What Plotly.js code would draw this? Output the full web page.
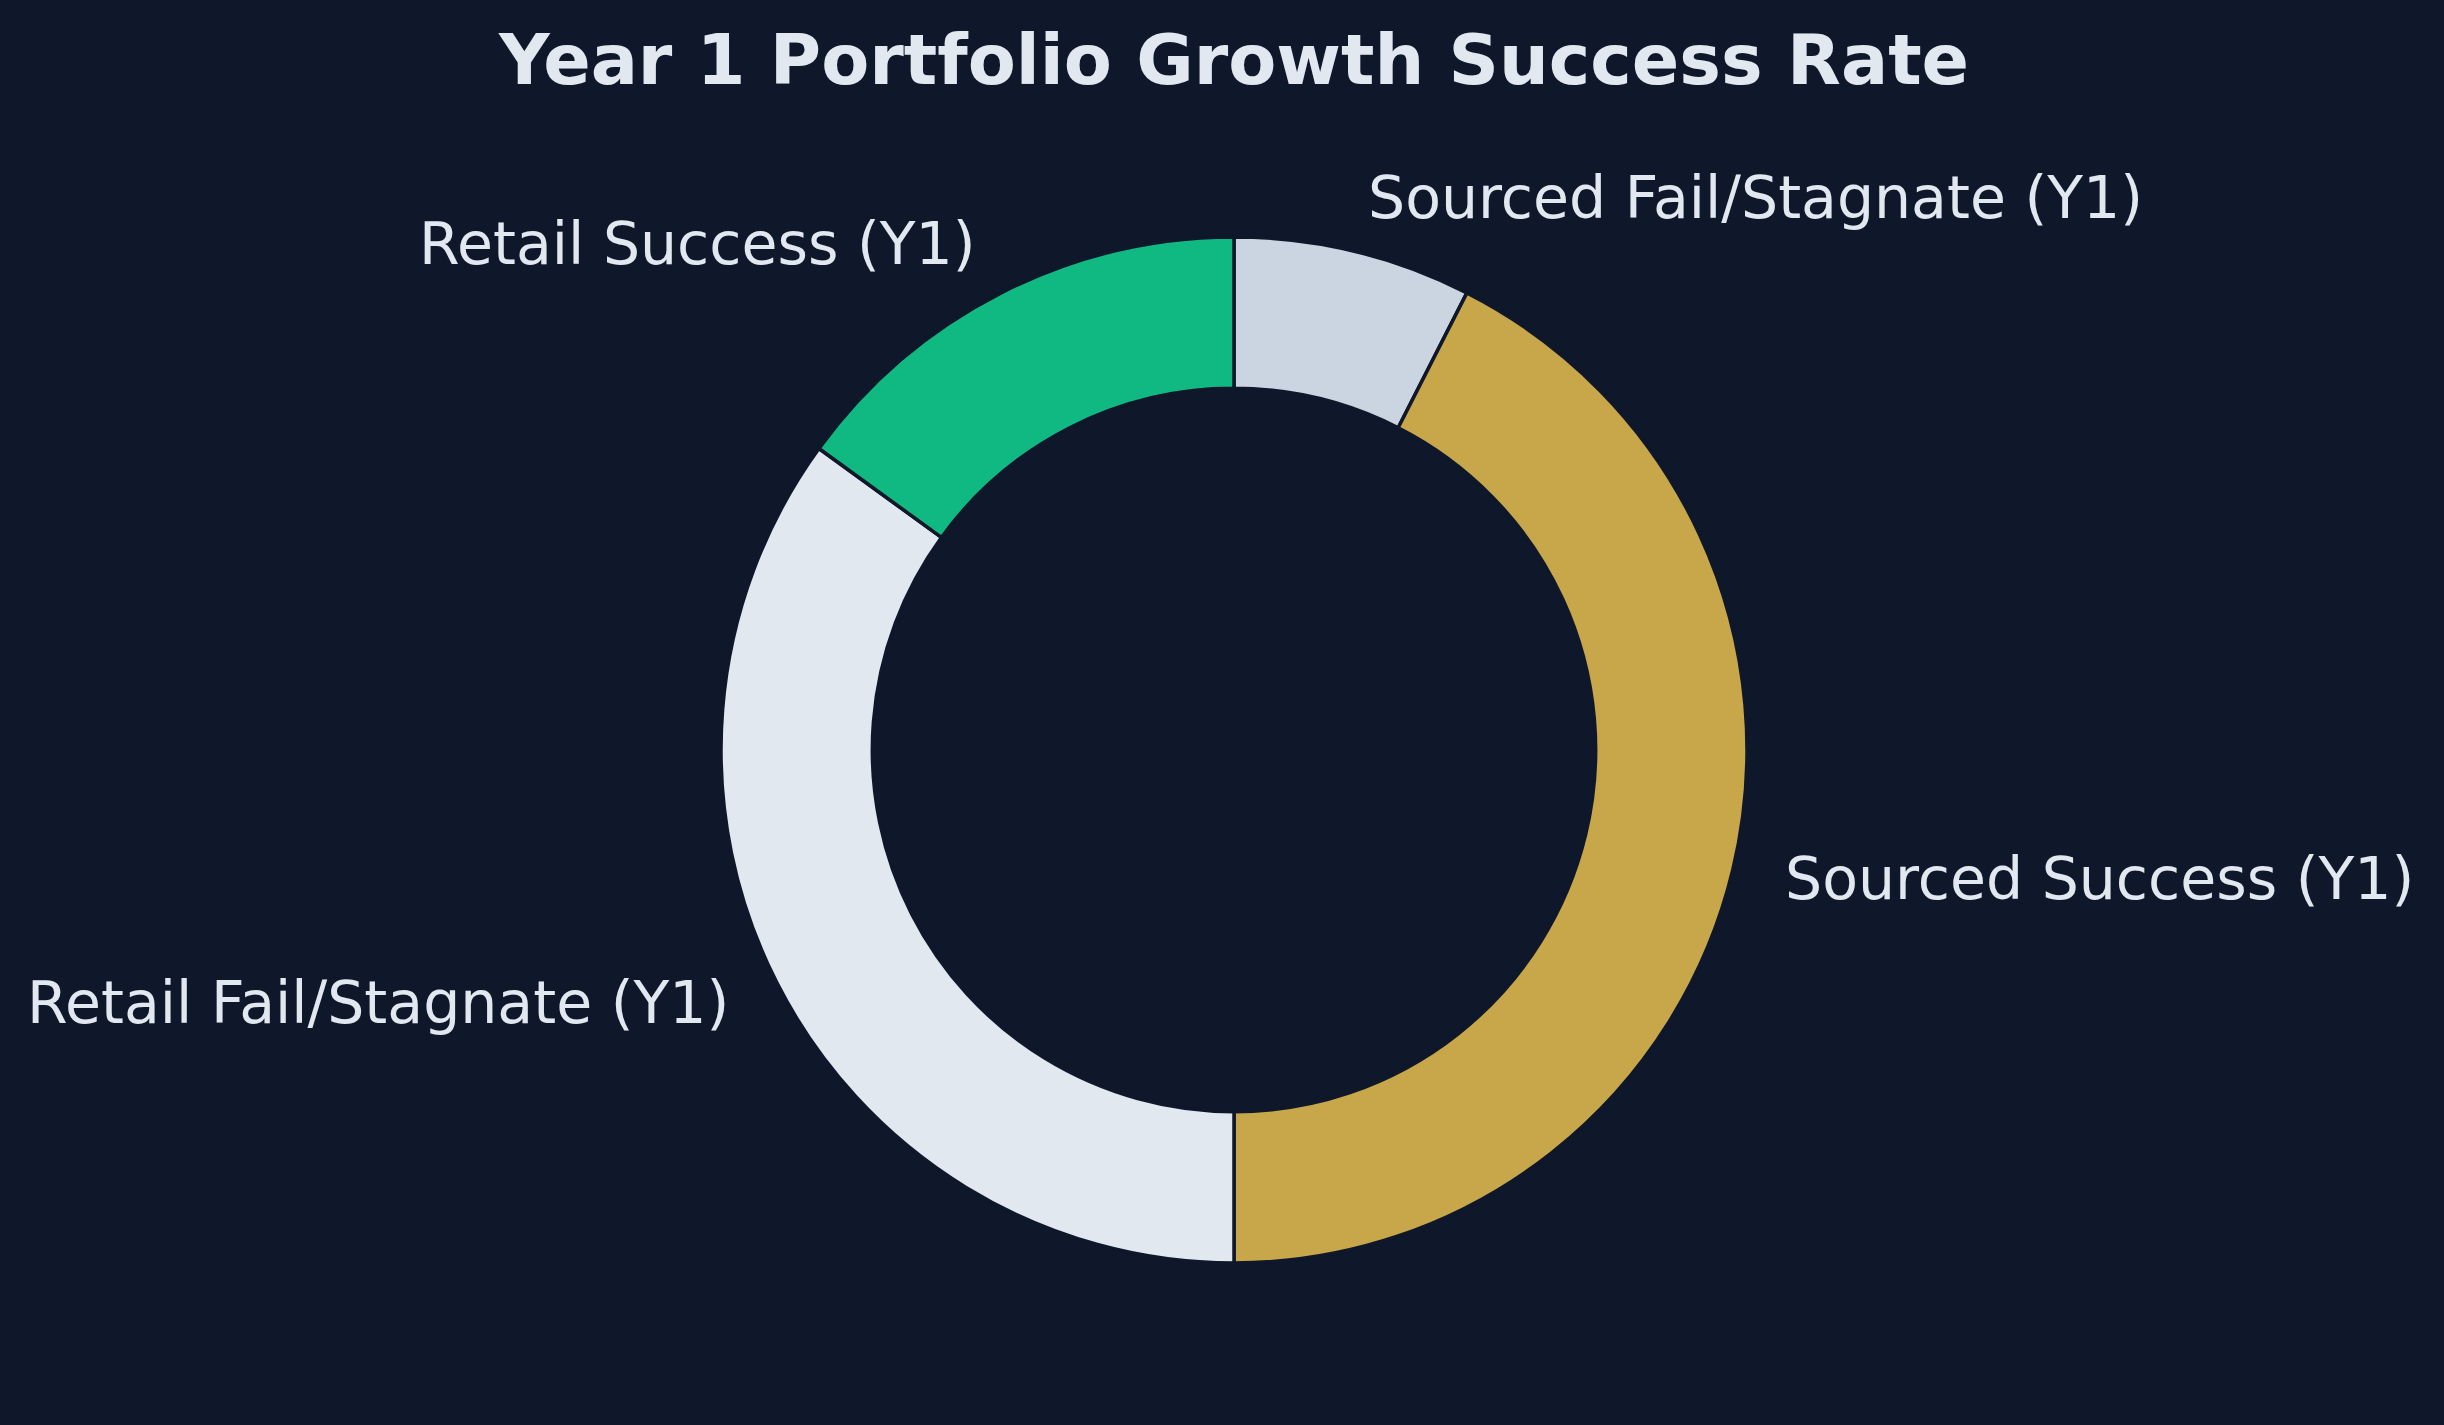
<!DOCTYPE html>
<html>
<head>
<meta charset="utf-8">
<script src="https://cdn.plot.ly/plotly-3.0.1.min.js"></script>
<style>html,body{margin:0;padding:0;background:#0f172a;}</style>
</head>
<body>
<div id="chart" style="width:2444px;height:1425px;"></div>
<script>
// Slices listed clockwise from 12 o'clock
const categories = ["Sourced Fail/Stagnate (Y1)", "Sourced Success (Y1)", "Retail Fail/Stagnate (Y1)", "Retail Success (Y1)"];
const values = [7.5, 42.5, 35, 15];
const colors = ["#cbd5e1", "#c8a74b", "#e2e8f0", "#10b981"];

const W = 2444, H = 1425;
const margin = {l: 124, r: 100, t: 237, b: 162};
const plotW = W - margin.l - margin.r;
const plotH = H - margin.t - margin.b;
const radius = Math.min(plotW, plotH) / 2;
const labelDist = 1.1;

const total = values.reduce((a, b) => a + b, 0);
let cum = 0;
const annotations = categories.map((c, i) => {
  const mid = cum + values[i] / 2;
  cum += values[i];
  const theta = mid / total * 2 * Math.PI; // clockwise from 12 o'clock
  const dx = Math.sin(theta) * radius * labelDist;
  const dy = Math.cos(theta) * radius * labelDist;
  return {
    text: c,
    xref: 'paper', yref: 'paper',
    x: 0.5 + dx / plotW,
    y: 0.5 + dy / plotH,
    xanchor: dx >= 0 ? 'left' : 'right',
    yanchor: 'middle',
    yshift: 3,
    showarrow: false,
    font: {family: 'DejaVu Sans', size: 58.5, color: '#e2e8f0'}
  };
});

const trace = {
  type: 'pie',
  labels: categories,
  values: values,
  sort: false,
  direction: 'clockwise',
  rotation: 0,
  hole: 0.705,
  textinfo: 'none',
  hoverinfo: 'skip',
  marker: {colors: colors, line: {color: '#0f172a', width: 3.5}},
  domain: {x: [0, 1], y: [0, 1]}
};

const layout = {
  width: W, height: H,
  paper_bgcolor: '#0f172a',
  plot_bgcolor: '#0f172a',
  margin: margin,
  showlegend: false,
  title: {
    text: '<b>Year 1 Portfolio Growth Success Rate</b>',
    font: {family: 'DejaVu Sans', size: 70, color: '#e2e8f0'},
    x: 0.5, xref: 'paper', xanchor: 'center',
    y: 1 - 59 / H, yref: 'container', yanchor: 'middle'
  },
  annotations: annotations
};

Plotly.newPlot('chart', [trace], layout, {displayModeBar: false, staticPlot: true});
</script>
</body>
</html>
